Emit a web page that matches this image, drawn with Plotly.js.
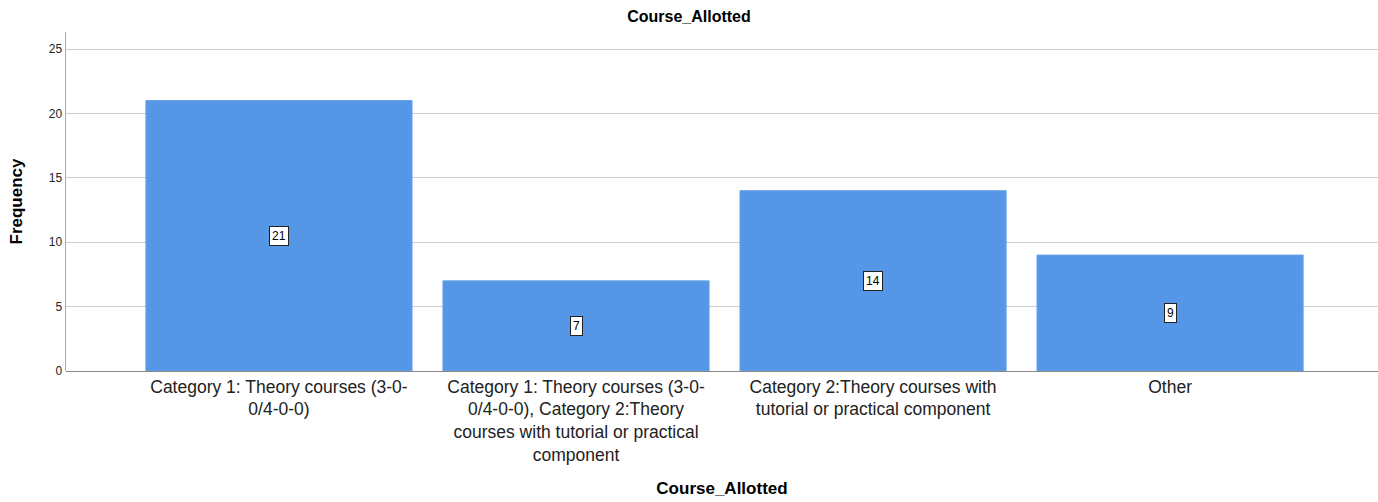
<!DOCTYPE html>
<html><head><meta charset="utf-8">
<script src="https://cdn.plot.ly/plotly-3.0.1.min.js"></script>
<style>html,body{margin:0;padding:0;background:#fff;}#c{width:1378px;height:502px;}</style>
</head><body><div id="c"></div>
<script>
var categories = [
  "Category 1: Theory courses (3-0-<br>0/4-0-0)",
  "Category 1: Theory courses (3-0-<br>0/4-0-0), Category 2:Theory<br>courses with tutorial or practical<br>component",
  "Category 2:Theory courses with<br>tutorial or practical component",
  "Other"
];
var frequency = [21, 7, 14, 9];
var yTicks = [0, 5, 10, 15, 20, 25];

var xIdx = categories.map(function(_, i){ return i; });

var annotations = frequency.map(function(v, i){
  return {x: i, y: v/2, xref: 'x', yref: 'y', text: String(v), showarrow: false,
    font: {family: 'Liberation Sans, Arial, sans-serif', size: 12, color: '#000'},
    bgcolor: '#ffffff', bordercolor: '#222', borderwidth: 1, borderpad: 2};
});

var trace = {
  type: 'bar', x: xIdx, y: frequency, width: 0.896,
  marker: {color: '#5596e6', line: {color: '#6aa3ea', width: 1}},
  hoverinfo: 'none'
};

var layout = {
  width: 1378, height: 502,
  margin: {l: 66, r: 0, t: 32, b: 131},
  paper_bgcolor: '#fff', plot_bgcolor: '#fff',
  showlegend: false,
  font: {family: 'Liberation Sans, Arial, sans-serif', color: '#222'},
  title: {text: '<b>Course_Allotted</b>', x: 0.5, xanchor: 'center', y: 0.968, yanchor: 'middle',
    font: {size: 16, color: '#000'}},
  xaxis: {
    range: [-0.717, 3.70], tickvals: xIdx, ticktext: categories,
    showgrid: false, zeroline: false, showline: false, ticks: '',
    ticklabelstandoff: 3,
    tickfont: {size: 17.5, color: '#222'},
    automargin: false,
    title: {text: '<b>Course_Allotted</b>', font: {size: 17, color: '#000'}, standoff: 18}
  },
  yaxis: {
    range: [0, 26.32], tickvals: yTicks, ticktext: yTicks.map(String),
    showgrid: true, gridcolor: '#cccccc', gridwidth: 1,
    zeroline: true, zerolinecolor: '#888', zerolinewidth: 1,
    showline: true, linecolor: '#aaaaaa', linewidth: 1.5,
    ticks: '', ticklen: 0, tickfont: {size: 12, color: '#222'},
    automargin: false,
    title: {text: '<b>Frequency</b>', font: {size: 17, color: '#000'}, standoff: 22}
  },
  bargap: 0,
  annotations: annotations
};

Plotly.newPlot('c', [trace], layout, {displayModeBar: false, staticPlot: true});
</script>
</body></html>
